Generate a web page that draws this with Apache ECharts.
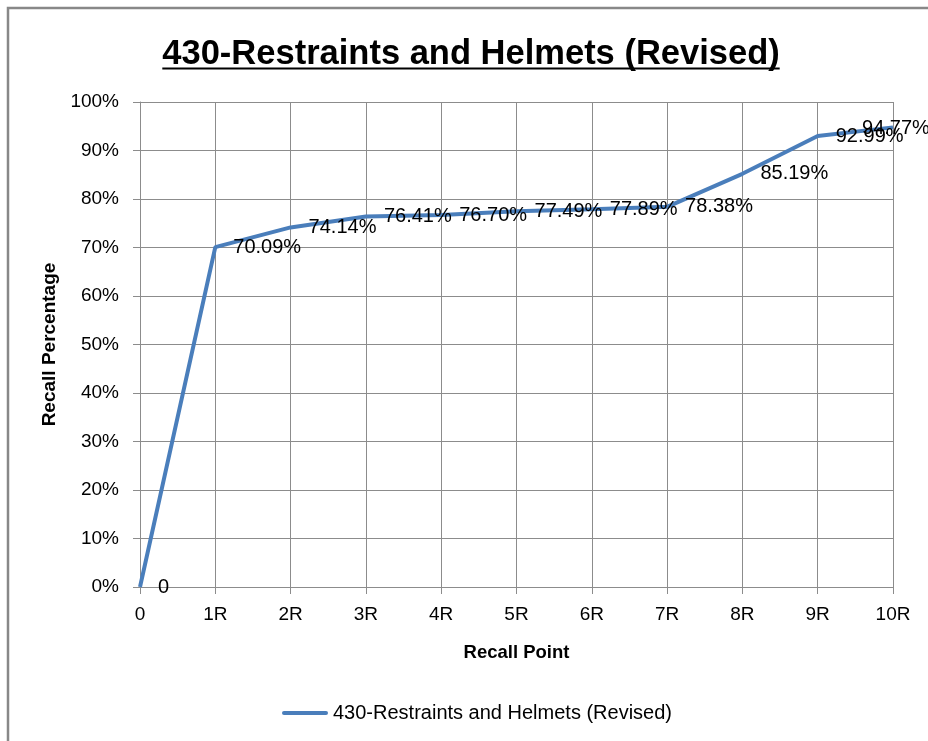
<!DOCTYPE html>
<html>
<head>
<meta charset="utf-8">
<script src="https://cdn.jsdelivr.net/npm/echarts@6/dist/echarts.min.js"></script>
<style>
  html, body { margin: 0; padding: 0; background: #fff; }
  #main { width: 928px; height: 741px; }
</style>
</head>
<body>
<div id="main"></div>
<script>
// data
const chartTitle = '430-Restraints and Helmets (Revised)'
const seriesName = '430-Restraints and Helmets (Revised)'
const recallPoints = ['0', '1R', '2R', '3R', '4R', '5R', '6R', '7R', '8R', '9R', '10R']
const recallPct = [0, 70.09, 74.14, 76.41, 76.70, 77.49, 77.89, 78.38, 85.19, 92.99, 94.77]
const yTicks = [0, 10, 20, 30, 40, 50, 60, 70, 80, 90, 100]

const font = '"Liberation Sans", Arial, sans-serif'
const gridColor = '#8c8c8c'
const lineColor = '#4a7ebb'

// measure title width so the underline fits the text
const titleFont = 'bold 34.5px "Liberation Sans"'
const ctx = document.createElement('canvas').getContext('2d')
ctx.font = titleFont
const titleW = ctx.measureText(chartTitle).width
const titleCx = 471

const chart = echarts.init(document.getElementById('main'))

const option = {
   animation: false,
   backgroundColor: '#fff',
   textStyle: { fontFamily: font },
   graphic: [
      // outer chart frame
      { type: 'rect', shape: { x: 8, y: 8, width: 940, height: 760 },
        style: { fill: 'none', stroke: '#888', lineWidth: 2.5 } },
      { type: 'text', left: titleCx - titleW / 2, top: 37,
        style: { text: chartTitle, font: titleFont, fill: '#000' } },
      { type: 'line', shape: { x1: titleCx - titleW / 2, y1: 68.5, x2: titleCx + titleW / 2, y2: 68.5 },
        style: { stroke: '#000', lineWidth: 2 } }
   ],
   legend: {
      data: [seriesName],
      left: 277, top: 698,
      itemWidth: 46, itemHeight: 14,
      icon: 'path://M2,5 L44,5 A2,2 0 0 1 44,9 L2,9 A2,2 0 0 1 2,5 Z',
      textStyle: { fontSize: 20, color: '#000', fontFamily: font }
   },
   grid: { left: 140, right: 35, top: 102, bottom: 154, containLabel: false },
   xAxis: {
      type: 'category',
      data: recallPoints,
      boundaryGap: false,
      name: 'Recall Point',
      nameLocation: 'middle',
      nameGap: 56,
      nameTextStyle: { fontWeight: 'bold', fontSize: 18.5, color: '#000' },
      axisLine: { lineStyle: { color: gridColor } },
      axisTick: { show: true, length: 7, lineStyle: { color: gridColor } },
      axisLabel: { fontSize: 19, color: '#000', margin: 18, interval: 0 },
      splitLine: { show: true, lineStyle: { color: gridColor } }
   },
   yAxis: {
      type: 'value',
      min: yTicks[0],
      max: yTicks[yTicks.length - 1],
      interval: 10,
      name: 'Recall Percentage',
      nameLocation: 'middle',
      nameGap: 75,
      nameRotate: 90,
      nameTextStyle: { fontWeight: 'bold', fontSize: 19, color: '#000' },
      axisLine: { show: true, lineStyle: { color: gridColor } },
      axisTick: { show: true, length: 7, lineStyle: { color: gridColor } },
      axisLabel: { fontSize: 19, color: '#000', margin: 21, formatter: v => v + '%' },
      splitLine: { show: true, lineStyle: { color: gridColor } }
   },
   series: [{
      name: seriesName,
      type: 'line',
      symbol: 'circle',
      symbolSize: 0.01,
      showSymbol: true,
      data: recallPct,
      lineStyle: { color: lineColor, width: 4 },
      itemStyle: { color: lineColor },
      label: {
         show: true,
         position: 'right',
         distance: 18,
         offset: [0, 3],
         fontSize: 20,
         color: '#000',
         formatter: p => p.dataIndex === 0 ? '0' : p.value.toFixed(2) + '%'
      },
      // Excel pushed the last label back inside the chart
      labelLayout: p => p.dataIndex === recallPct.length - 1 ? { dx: -49, dy: 1, hideOverlap: false } : { hideOverlap: false }
   }]
}

chart.setOption(option)
</script>
</body>
</html>
